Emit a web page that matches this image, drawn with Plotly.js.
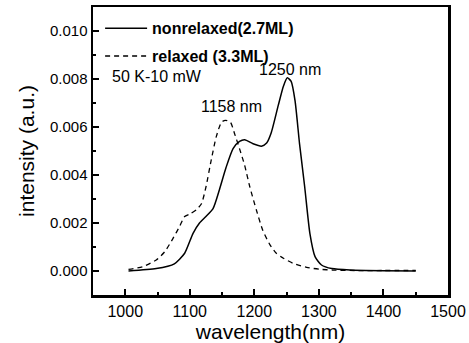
<!DOCTYPE html>
<html>
<head>
<meta charset="utf-8">
<script src="https://cdn.plot.ly/plotly-3.0.1.min.js"></script>
<style>html,body{margin:0;padding:0;background:#fff;}#chart{width:469px;height:343px;}</style>
</head>
<body>
<div id="chart"></div>
<script>
// nonrelaxed (2.7ML) - solid
var nonrelaxedX = [1005,1048,1076,1092,1105,1115,1125,1136,1146,1156,1167,1177,1185,1198,1211,1219,1226,1237,1245,1251,1257,1263,1270,1278,1286,1294,1304,1320,1348,1400,1450];
var nonrelaxedY = [0.0000,0.0001,0.0003,0.00074,0.00157,0.0020,0.00227,0.0026,0.0034,0.0043,0.0051,0.0054,0.00547,0.0053,0.0052,0.00533,0.00575,0.0069,0.0077,0.00805,0.0079,0.0071,0.0053,0.0035,0.00157,0.0006,0.00025,0.0001,0.00004,0.00001,0.0];
// relaxed (3.3ML) - dashed
var relaxedX = [1005,1027,1048,1061,1074,1084,1092,1100,1110,1118,1125,1133,1141,1149,1155,1163,1169,1177,1185,1193,1203,1213,1224,1234,1245,1260,1281,1302,1322,1360,1400,1450];
var relaxedY = [0.00007,0.00018,0.00046,0.0008,0.00136,0.00185,0.00227,0.00237,0.00255,0.0028,0.0035,0.0046,0.0056,0.0062,0.00628,0.0062,0.00575,0.0051,0.0044,0.0035,0.00255,0.0017,0.0011,0.00074,0.00053,0.00032,0.00015,0.00007,0.00004,0.00002,0.00002,0.00002];
var seriesNames = ['nonrelaxed(2.7ML)', 'relaxed (3.3ML)'];
var xTicks = [1000,1100,1200,1300,1400,1500];
var yTicks = [0.000,0.002,0.004,0.006,0.008,0.010];
var yTickLabels = ['0.000','0.002','0.004','0.006','0.008','0.010'];
var peakLabels = ['1158 nm','1250 nm'];
var peakX = [1164.6,1254.8];
var peakY = [0.00685,0.0084];
var conditionText = '50 K-10 mW';

var traces = [
  {x: nonrelaxedX, y: nonrelaxedY, name: seriesNames[0], mode: 'lines', line: {color: '#000', width: 1.5, shape: 'spline', smoothing: 0.6}, legendgroup: 'a'},
  {x: relaxedX, y: relaxedY, name: seriesNames[1], mode: 'lines', line: {color: '#000', width: 1.3, dash: '5px,4px', shape: 'spline', smoothing: 0.6}, legendgroup: 'b'}
];

var annotations = [
  {x: 976.4, y: 0.0081, xref: 'x', yref: 'y', text: conditionText, showarrow: false, xanchor: 'left', yanchor: 'middle', font: {size: 16, color: '#000', family: 'Liberation Sans, Arial, sans-serif'}}
];
for (var i = 0; i < peakLabels.length; i++) {
  annotations.push({x: peakX[i], y: peakY[i], xref: 'x', yref: 'y', text: peakLabels[i], showarrow: false, xanchor: 'center', yanchor: 'middle', font: {size: 16, color: '#000', family: 'Liberation Sans, Arial, sans-serif'}});
}

var layout = {
  width: 469, height: 343,
  margin: {l: 93, r: 21, t: 7, b: 48},
  paper_bgcolor: '#fff', plot_bgcolor: '#fff',
  font: {family: 'Liberation Sans, Arial, sans-serif', color: '#000'},
  showlegend: true,
  legend: {x: 0.02, y: 0.985, xanchor: 'left', yanchor: 'top', bgcolor: 'rgba(0,0,0,0)', borderwidth: 0,
           font: {size: 16, color: '#000', family: 'Liberation Sans, Arial, sans-serif', weight: 'bold'},
           itemwidth: 42, tracegroupgap: 4},
  xaxis: {
    range: [950, 1500], tickvals: xTicks, ticktext: xTicks.map(String),
    ticks: 'inside', ticklen: 6, tickwidth: 2, tickcolor: '#000',
    minor: {dtick: 50, tick0: 0, ticks: 'inside', ticklen: 3, tickwidth: 2, tickcolor: '#000'},
    showline: true, linewidth: 2.5, linecolor: '#000', mirror: true,
    showgrid: false, zeroline: false,
    tickfont: {size: 16, color: '#000'},
    title: {text: 'wavelength(nm)', font: {size: 21, color: '#000'}, standoff: 4}
  },
  yaxis: {
    range: [-0.001, 0.011], tickvals: yTicks, ticktext: yTickLabels,
    ticks: 'inside', ticklen: 6, tickwidth: 2, tickcolor: '#000',
    minor: {dtick: 0.001, tick0: 0, ticks: 'inside', ticklen: 3, tickwidth: 2, tickcolor: '#000'},
    showline: true, linewidth: 2.5, linecolor: '#000', mirror: true,
    showgrid: false, zeroline: false,
    tickfont: {size: 15, color: '#000'},
    title: {text: 'intensity (a.u.)', font: {size: 21, color: '#000'}, standoff: 10}
  },
  annotations: annotations
};

Plotly.newPlot('chart', traces, layout, {displayModeBar: false, staticPlot: true});
</script>
</body>
</html>
